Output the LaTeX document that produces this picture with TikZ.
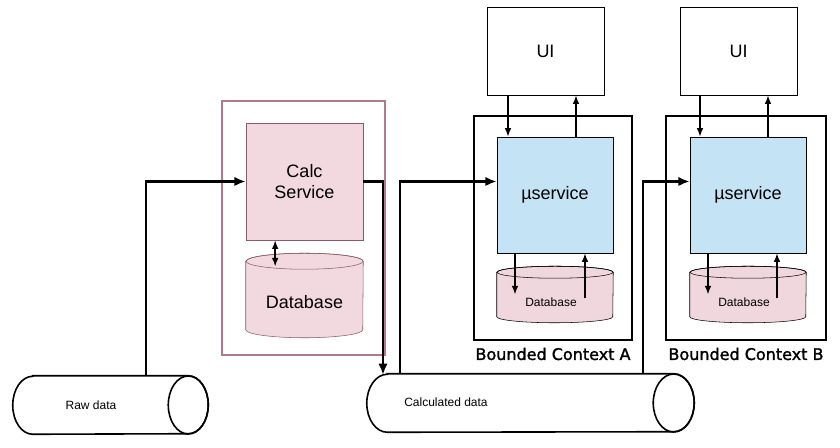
\documentclass[tikz,border=0pt]{standalone}
\usepackage{fontspec}
\setmainfont{Liberation Sans}
\newfontfamily\ctxfont[FakeBold=1.5]{DejaVu Sans}
\usetikzlibrary{arrows.meta}

\definecolor{calcpink}{HTML}{F2D9DF}
\definecolor{calcedge}{HTML}{8A5A6A}
\definecolor{ctxpink}{HTML}{B07A8A}
\definecolor{msblue}{HTML}{C4E4F6}
\definecolor{dbpink}{HTML}{F0D6DD}

\tikzset{
  box/.style={draw, rectangle, inner sep=0pt},
  slot/.style={rectangle, inner sep=0pt},
  outline/.style={line width=1.2pt},
  flow/.style={line width=2pt, -{Latex[length=8.5pt,width=7pt]}},
  link/.style={line width=1.1pt, -{Latex[length=6.5pt,width=5pt]}},
  big/.style={font=\fontsize{13.5}{16}\selectfont},
  small/.style={font=\fontsize{9}{10}\selectfont},
  ctxlabel/.style={font=\ctxfont\fontsize{12}{14}\selectfont}
}

\begin{document}
\begin{tikzpicture}[x=0.75pt, y=0.75pt]

  \useasboundingbox (0,0) rectangle (840,-448);

  % Raw data pipe
  \node[slot, minimum width=146.25pt, minimum height=43.5pt] (raw) at (110.5,-405) {};
  \draw[outline, fill=white] ([xshift=15pt]raw.north west) -- ([xshift=-15pt]raw.north east)
    arc (90:-90:20 and 29) -- ([xshift=15pt]raw.south west) arc (270:90:20 and 29) -- cycle;
  \draw[outline] ([xshift=-15pt]raw.east) ellipse (20 and 29);
  \node[small] (rawlabel) at (91,-405) {Raw data};

  % Calculated data pipe
  \node[slot, minimum width=245.25pt, minimum height=43.5pt] (calcdata) at (530.5,-403) {};
  \draw[outline, fill=white] ([xshift=15.4pt]calcdata.north west) -- ([xshift=-15.4pt]calcdata.north east)
    arc (90:-90:20.5 and 29) -- ([xshift=15.4pt]calcdata.south west) arc (270:90:20.5 and 29) -- cycle;
  \draw[outline] ([xshift=-15.4pt]calcdata.east) ellipse (20.5 and 29);
  \node[small] (calcdatalabel) at (446,-402) {Calculated data};

  % Calculation service
  \node[box, draw=ctxpink, line width=1.2pt, minimum width=122.25pt, minimum height=190.5pt] (calcctx) at (303.5,-228) {};
  \node[box, draw=calcedge, fill=calcpink, minimum width=87.75pt, minimum height=87.75pt,
    align=center, big] (calc) at (304.5,-181.5) {Calc\\Service};
  \node[slot, minimum width=87.75pt, minimum height=63pt] (calcdb) at (304.5,-295.5) {};
  \draw[draw=calcedge, fill=calcpink] ([yshift=-6pt]calcdb.north west) -- ([yshift=6pt]calcdb.south west)
    arc (180:360:58.5 and 8) -- ([yshift=-6pt]calcdb.north east) arc (0:180:58.5 and 8) -- cycle;
  \draw[draw=calcedge] ([yshift=-6pt]calcdb.north) ellipse (58.5 and 8);
  \node[big] (calcdblabel) at (304.5,-302) {Database};

  % Bounded context A
  \node[box, line width=1.5pt, minimum width=118.5pt, minimum height=168pt] (ctxA) at (553,-228) {};
  \node[ctxlabel] (ctxAlabel) at (553,-354) {Bounded Context A};
  \node[box, big, minimum width=87.75pt, minimum height=66pt] (uiA) at (545.5,-51) {UI};
  \node[box, big, fill=msblue, minimum width=87pt, minimum height=87pt] (msA) at (555,-195) {µservice};
  \node[slot, minimum width=87pt, minimum height=42pt] (dbA) at (555,-294.5) {};
  \draw[fill=dbpink] ([yshift=-4.5pt]dbA.north west) -- ([yshift=4.5pt]dbA.south west)
    arc (180:360:58 and 6) -- ([yshift=-4.5pt]dbA.north east) arc (0:180:58 and 6) -- cycle;
  \draw ([yshift=-4.5pt]dbA.north) ellipse (58 and 6);
  \node[small] (dbAlabel) at (551,-302) {Database};

  % Bounded context B
  \node[box, line width=1.5pt, minimum width=120pt, minimum height=168pt] (ctxB) at (746,-228) {};
  \node[ctxlabel] (ctxBlabel) at (746,-354) {Bounded Context B};
  \node[box, big, minimum width=87.75pt, minimum height=66pt] (uiB) at (738.5,-51) {UI};
  \node[box, big, fill=msblue, minimum width=87pt, minimum height=87pt] (msB) at (748,-195) {µservice};
  \node[slot, minimum width=87pt, minimum height=42pt] (dbB) at (748,-294.5) {};
  \draw[fill=dbpink] ([yshift=-4.5pt]dbB.north west) -- ([yshift=4.5pt]dbB.south west)
    arc (180:360:58 and 6) -- ([yshift=-4.5pt]dbB.north east) arc (0:180:58 and 6) -- cycle;
  \draw ([yshift=-4.5pt]dbB.north) ellipse (58 and 6);
  \node[small] (dbBlabel) at (744,-302) {Database};

  % Feed points on the pipes
  \coordinate (rawtap) at (146,-376);
  \coordinate (calcdrop) at (383,-375);
  \coordinate (feedA) at (400,-374);
  \coordinate (feedB) at (643,-374);

  % Data flow
  \draw[flow] (rawtap) |- (calc.west);
  \draw[flow] (calc.east) -| (calcdrop);
  \draw[flow] (feedA) |- (msA.west |- calc.west);
  \draw[flow] (feedB) |- (msB.west |- calc.west);

  % Service and database
  \draw[link, {Latex[length=6.5pt,width=5pt]}-{Latex[length=6.5pt,width=5pt]}]
    ([xshift=-22pt]calc.south) -- ([xshift=-22pt,yshift=-10pt]calcdb.north);

  % UI and service links
  \draw[link] ([xshift=-35.25pt]msA.north |- uiA.south) -- ([xshift=-35.25pt]msA.north);
  \draw[link] ([xshift=15.75pt]msA.north) -- ([xshift=15.75pt]msA.north |- uiA.south);
  \draw[link] ([xshift=-30pt]msA.south) -- ([xshift=-30pt]msA.south |- dbA.center);
  \draw[link] ([xshift=22.5pt,yshift=-3pt]msA.south |- dbA.center) -- ([xshift=22.5pt]msA.south);

  \draw[link] ([xshift=-36pt]msB.north |- uiB.south) -- ([xshift=-36pt]msB.north);
  \draw[link] ([xshift=15pt]msB.north) -- ([xshift=15pt]msB.north |- uiB.south);
  \draw[link] ([xshift=-30pt]msB.south) -- ([xshift=-30pt]msB.south |- dbB.center);
  \draw[link] ([xshift=21.75pt,yshift=-3pt]msB.south |- dbB.center) -- ([xshift=21.75pt]msB.south);

\end{tikzpicture}
\end{document}
